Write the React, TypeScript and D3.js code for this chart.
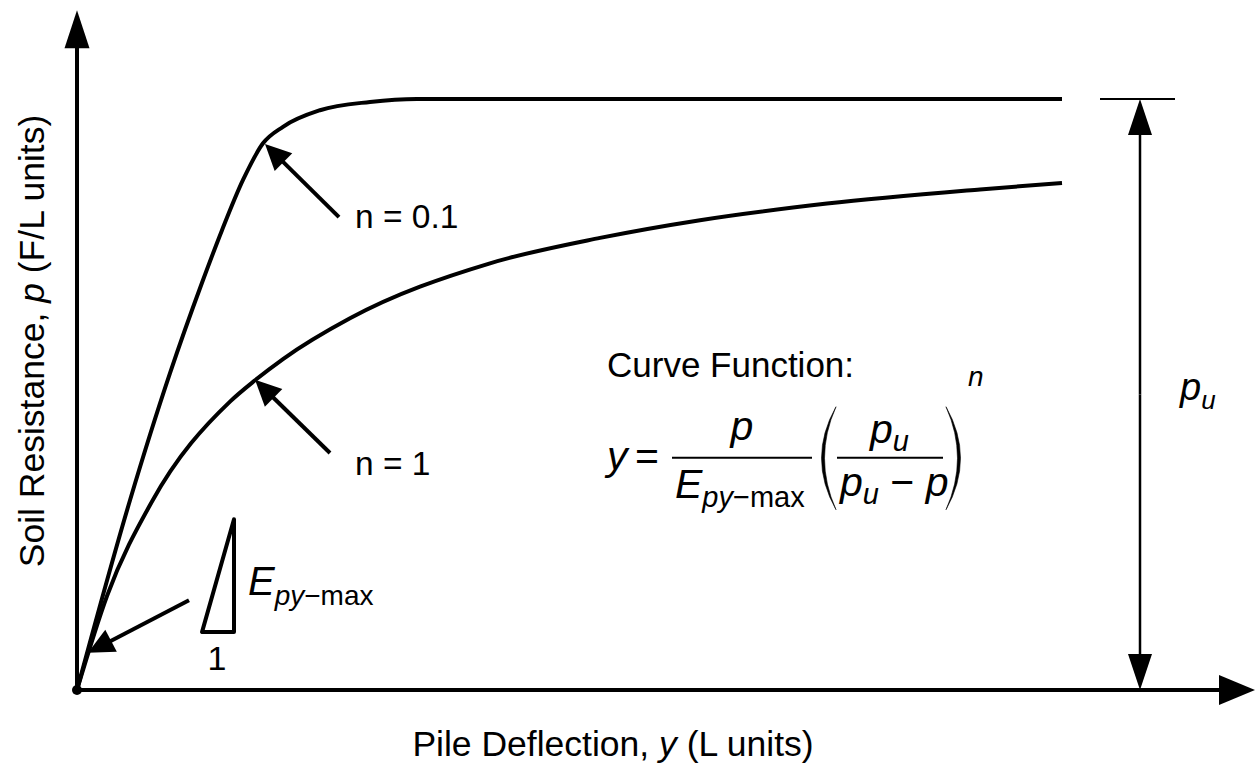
import React from "react";
import * as d3 from "d3";

const W = 1258;
const H = 767;

// Curve readings: pile deflection y (arbitrary L units) vs soil resistance p (% of p_u)
const deflN01 = [0, 5.3, 9.3, 12.5, 14.5, 16.6, 18.6, 20.6, 24.3, 29.3, 34, 98.5];
const resN01 = [0, 32.1, 53.6, 68.9, 77.8, 86.3, 92.5, 95.3, 98.1, 99.5, 100, 100];
const deflN1 = [0, 3.0, 7.5, 15.3, 17.8, 20.6, 27.3, 41.3, 52.3, 62.3, 75, 90.3, 98.5];
const resN1 = [0, 15.9, 31.9, 48.8, 52.4, 56.0, 62.9, 72.2, 76.5, 79.5, 82.3, 84.7, 85.8];

// Label text
const curveLabels = ["n = 0.1", "n = 1"];
const curveFunctionTitle = "Curve Function:";

const FONT = "'Liberation Sans', Arial, Helvetica, sans-serif";
const STROKE = 4;

const x = d3.scaleLinear().domain([0, 100]).range([77, 1077]);
const y = d3.scaleLinear().domain([0, 100]).range([690, 99]);

const line = d3
  .line<[number, number]>()
  .x((d) => x(d[0]))
  .y((d) => y(d[1]))
  .curve(d3.curveMonotoneX);

function zip(a: number[], b: number[]): [number, number][] {
  return a.map((v, i) => [v, b[i]]);
}

type ArrowProps = {
  from: [number, number];
  to: [number, number];
  headLen: number;
  headW: number;
  sw: number;
};

// Straight arrow in pixel space with a filled triangular head at "to"
function Arrow({ from, to, headLen, headW, sw }: ArrowProps) {
  const [x1, y1] = from;
  const [x2, y2] = to;
  const dx = x2 - x1;
  const dy = y2 - y1;
  const L = Math.hypot(dx, dy);
  const ux = dx / L;
  const uy = dy / L;
  const bx = x2 - ux * headLen;
  const by = y2 - uy * headLen;
  const px = -uy;
  const py = ux;
  const pts = [
    [x2, y2],
    [bx + (px * headW) / 2, by + (py * headW) / 2],
    [bx - (px * headW) / 2, by - (py * headW) / 2],
  ]
    .map((p) => p.join(","))
    .join(" ");
  return (
    <g>
      <line
        x1={x1}
        y1={y1}
        x2={bx + ux * 2}
        y2={by + uy * 2}
        stroke="#000"
        strokeWidth={sw}
        strokeLinecap="butt"
      />
      <polygon points={pts} fill="#000" />
    </g>
  );
}

// Tall bracket drawn as a tapered crescent
function Paren({ x0, top, bottom, left }: { x0: number; top: number; bottom: number; left: boolean }) {
  const mid = (top + bottom) / 2;
  const s = left ? -1 : 1;
  const outer = x0 + s * 29;
  const inner = x0 + s * 23;
  const d = `M${x0},${top} Q${outer},${mid} ${x0},${bottom} Q${inner},${mid} ${x0},${top} Z`;
  return <path d={d} fill="#000" stroke="#000" strokeWidth={0.6} />;
}

export default function App() {
  const n01 = zip(deflN01, resN01);
  const n1 = zip(deflN1, resN1);

  // annotation anchors (data units)
  const xAxisEnd = 117.8;
  const yAxisEnd = 115;
  const dimX = 106.3;

  const fx = x(53);
  const fy = y(39.3);

  return (
    <svg
      width={W}
      height={H}
      style={{ position: "absolute", left: 0, top: 0, background: "#fff" }}
      fontFamily={FONT}
    >
      <rect width={W} height={H} fill="#fff" />

      {/* axes */}
      <Arrow from={[x(0), y(0)]} to={[x(0), y(yAxisEnd)]} headLen={38} headW={25} sw={STROKE} />
      <Arrow from={[x(0), y(0)]} to={[x(xAxisEnd), y(0)]} headLen={36} headW={30} sw={STROKE} />
      <circle cx={x(0)} cy={y(0)} r={5} fill="#000" />

      {/* curves */}
      <path d={line(n01) || ""} fill="none" stroke="#000" strokeWidth={STROKE} strokeLinejoin="round" />
      <path d={line(n1) || ""} fill="none" stroke="#000" strokeWidth={STROKE} strokeLinejoin="round" />

      {/* curve callouts */}
      <Arrow from={[x(26.2), y(80.0)]} to={[x(18.8), y(92.4)]} headLen={26} headW={25} sw={STROKE} />
      <text x={x(27.8)} y={y(78.2)} fontSize={33.5}>
        {curveLabels[0]}
      </text>
      <Arrow from={[x(25.3), y(40.1)]} to={[x(17.8), y(52.5)]} headLen={26} headW={25} sw={STROKE} />
      <text x={x(27.8)} y={y(36.4)} fontSize={33.5}>
        {curveLabels[1]}
      </text>

      {/* initial stiffness callout */}
      <Arrow from={[x(11.2), y(15.2)]} to={[x(1.1), y(6.3)]} headLen={26} headW={25} sw={STROKE} />
      <polygon
        points={[
          [x(12.5), y(9.8)],
          [x(15.7), y(9.8)],
          [x(15.7), y(28.9)],
        ]
          .map((p) => p.join(","))
          .join(" ")}
        fill="none"
        stroke="#000"
        strokeWidth={STROKE}
        strokeLinejoin="round"
      />
      <text x={x(14.0)} y={y(3.4)} fontSize={34} textAnchor="middle">
        1
      </text>
      <text x={x(17.1)} y={y(16.1)} fontSize={40} fontStyle="italic">
        E
        <tspan fontSize={28} dy={10}>
          py
        </tspan>
        <tspan fontStyle="normal" fontSize={28}>
          {"\u2212max"}
        </tspan>
      </text>

      {/* ultimate resistance dimension */}
      <line x1={x(102.3)} x2={x(109.8)} y1={y(100)} y2={y(100)} stroke="#000" strokeWidth={2} />
      <Arrow from={[x(dimX), y(50)]} to={[x(dimX), y(100)]} headLen={36} headW={24} sw={2.5} />
      <Arrow from={[x(dimX), y(50)]} to={[x(dimX), y(0)]} headLen={36} headW={24} sw={2.5} />
      <text x={x(110.3)} y={y(49.1)} fontSize={38} fontStyle="italic">
        p
        <tspan fontSize={26} dy={9}>
          u
        </tspan>
      </text>

      {/* curve function */}
      <text x={x(53)} y={y(53)} fontSize={35}>
        {curveFunctionTitle}
      </text>
      <g transform={`translate(${fx},${fy})`} fontStyle="italic">
        <text x={0} y={12} fontSize={41}>
          y
        </text>
        <text x={28} y={12} fontSize={41} fontStyle="normal">
          =
        </text>
        <line x1={65} x2={205} y1={0} y2={0} stroke="#000" strokeWidth={2} />
        <text x={135} y={-18} fontSize={41} textAnchor="middle">
          p
        </text>
        <text x={68} y={40} fontSize={41}>
          E
          <tspan fontSize={29} dy={9}>
            py
          </tspan>
          <tspan fontStyle="normal" fontSize={29}>
            {"\u2212max"}
          </tspan>
        </text>
        <Paren x0={229} top={-51} bottom={52} left={true} />
        <Paren x0={339} top={-51} bottom={52} left={false} />
        <line x1={230} x2={336} y1={0} y2={0} stroke="#000" strokeWidth={2} />
        <text x={263} y={-15} fontSize={41}>
          p
          <tspan fontSize={29} dy={8}>
            u
          </tspan>
        </text>
        <text x={233} y={38} fontSize={41}>
          p
          <tspan fontSize={29} dy={8}>
            u
          </tspan>
          <tspan fontStyle="normal" dy={-8}>
            {" \u2212 "}
          </tspan>
          <tspan>p</tspan>
        </text>
        <text x={361} y={-72} fontSize={28}>
          n
        </text>
      </g>

      {/* axis titles */}
      <text x={613} y={756} fontSize={35.5} textAnchor="middle">
        Pile Deflection, <tspan fontStyle="italic">y</tspan> (L units)
      </text>
      <text transform="translate(44,341) rotate(-90)" fontSize={35.5} textAnchor="middle">
        Soil Resistance, <tspan fontStyle="italic">p</tspan> (F/L units)
      </text>
    </svg>
  );
}
